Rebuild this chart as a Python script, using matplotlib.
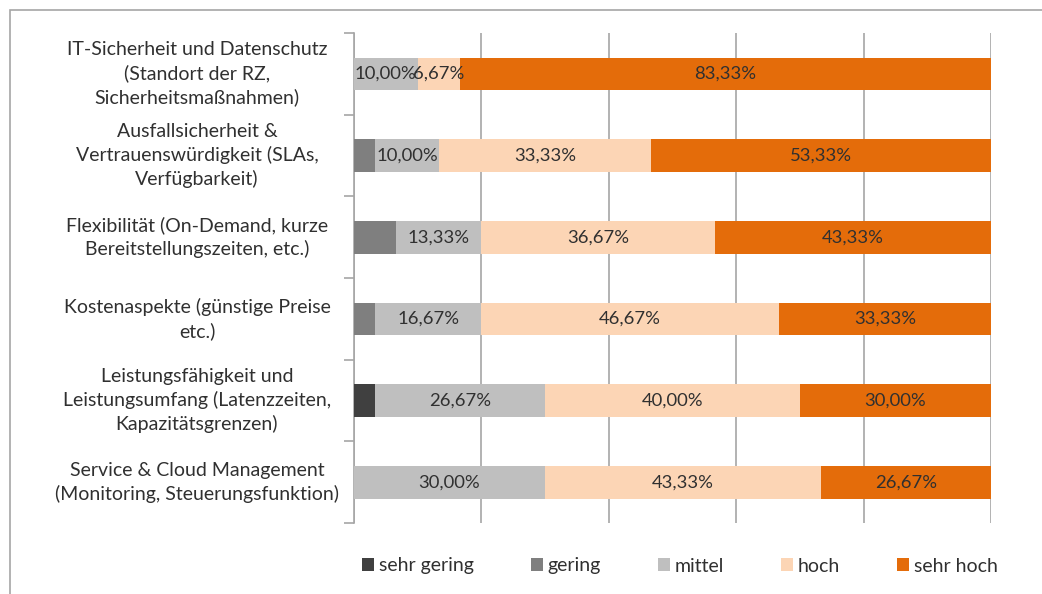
import matplotlib.pyplot as plt
import matplotlib.patches as mpatches
import numpy as np

plt.rcParams['font.family'] = ['Lato', 'DejaVu Sans']

# categories from top to bottom
categories = [
    "IT-Sicherheit und Datenschutz\n(Standort der RZ,\nSicherheitsmaßnahmen)",
    "Ausfallsicherheit &\nVertrauenswürdigkeit (SLAs,\nVerfügbarkeit)",
    "Flexibilität (On-Demand, kurze\nBereitstellungszeiten, etc.)",
    "Kostenaspekte (günstige Preise\netc.)",
    "Leistungsfähigkeit und\nLeistungsumfang (Latenzzeiten,\nKapazitätsgrenzen)",
    "Service & Cloud Management\n(Monitoring, Steuerungsfunktion)",
]

series_names = ["sehr gering", "gering", "mittel", "hoch", "sehr hoch"]
sehr_gering = [0, 0, 0, 0, 3.33, 0]
gering = [0, 3.33, 6.67, 3.33, 0, 0]
mittel = [10.00, 10.00, 13.33, 16.67, 26.67, 30.00]
hoch = [6.67, 33.33, 36.67, 46.67, 40.00, 43.33]
sehr_hoch = [83.33, 53.33, 43.33, 33.33, 30.00, 26.67]

colors = ["#404040", "#7f7f7f", "#bfbfbf", "#fcd5b5", "#e46c0a"]
show_labels = [False, False, True, True, True]
txt_color = "#303030"
fs = 14

fig = plt.figure(figsize=(10.42, 5.94), dpi=100)
ax = fig.add_axes([354 / 1042, 1 - 523 / 594, 637 / 1042, 490 / 594])

# light frame around the chart
fig.patches.append(mpatches.Rectangle((10 / 1042, -0.05), 1.2, 1 - 10 / 594 + 0.05,
                                      transform=fig.transFigure, fill=False,
                                      edgecolor="#a6a6a6", linewidth=1.2))

y = np.arange(len(categories))
left = np.zeros(len(categories))
all_series = [sehr_gering, gering, mittel, hoch, sehr_hoch]
for name, vals, col, lab in zip(series_names, all_series, colors, show_labels):
    vals = np.array(vals)
    ax.barh(y, vals, left=left, height=0.4, color=col, label=name, zorder=3)
    if lab:
        for yi, l, v in zip(y, left, vals):
            if v > 0:
                ax.text(l + v / 2, yi, f"{v:.2f}%".replace(".", ","),
                        ha="center", va="center", fontsize=13.3,
                        color=txt_color, zorder=4)
    left += vals

ax.set_xlim(0, 100)
ax.set_ylim(len(categories) - 0.5, -0.5)
ax.set_xticks(np.arange(0, 101, 20))
ax.tick_params(axis="x", length=0, labelbottom=False)
ax.grid(axis="x", color="#a6a6a6", linewidth=1.2, zorder=0)
for s in ["top", "right", "bottom"]:
    ax.spines[s].set_visible(False)
ax.spines["left"].set_color("#a6a6a6")
ax.spines["left"].set_linewidth(1.2)
ax.set_yticks(np.arange(len(categories) + 1) - 0.5)
ax.set_yticklabels([])
ax.tick_params(axis="y", length=7, color="#a6a6a6", width=1.2)

for yi, cat in zip(y, categories):
    ax.text(-0.2465, yi, cat, transform=ax.get_yaxis_transform(),
            ha="center", va="center", multialignment="center",
            fontsize=fs, color=txt_color, linespacing=1.4)

fig.legend(loc="center", bbox_to_anchor=(680 / 1042, 1 - 566 / 594), ncol=5,
           frameon=False, fontsize=fs, handlelength=0.6, handleheight=0.6,
           handletextpad=0.25, columnspacing=2.95, labelcolor=txt_color)

fig.savefig("out.png", dpi=100)
